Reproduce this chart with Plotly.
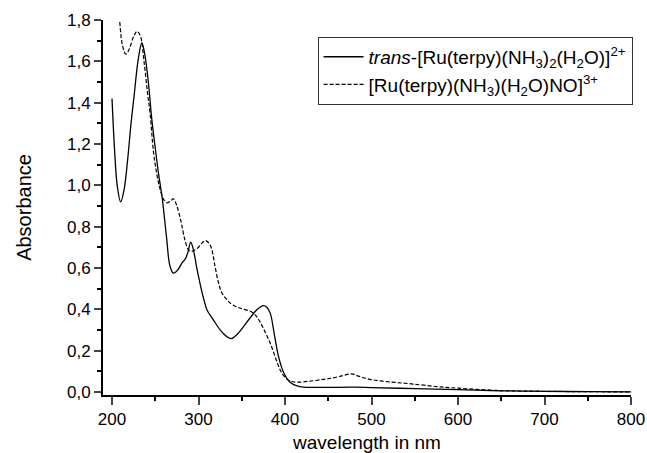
import plotly.graph_objects as go

# Solid: trans-[Ru(terpy)(NH3)2(H2O)]2+
wl_solid = [200, 203, 206, 210, 214, 218, 222, 226, 230, 234.5, 238, 242, 246, 250, 254, 258, 263,
            267, 271, 276, 281, 285, 288, 291, 294, 298, 302, 306, 310, 317, 325, 332, 338, 345,
            352, 360, 368, 375, 379, 383, 388, 392, 396, 400, 405, 410, 417, 430, 480, 500, 550,
            600, 650, 700, 750, 800]
abs_solid = [1.42, 1.17, 1.0, 0.92, 0.98, 1.12, 1.3, 1.45, 1.6, 1.69, 1.63, 1.5, 1.32, 1.18, 1.05, 0.94, 0.75,
             0.61, 0.575, 0.59, 0.625, 0.645, 0.68, 0.725, 0.69, 0.6, 0.52, 0.45, 0.395, 0.35, 0.30, 0.27, 0.258, 0.28,
             0.316, 0.36, 0.40, 0.418, 0.41, 0.38, 0.27, 0.18, 0.12, 0.08, 0.05, 0.035, 0.026, 0.022, 0.023, 0.021, 0.016,
             0.011, 0.005, 0.003, 0.001, 0.0]

# Dashed: [Ru(terpy)(NH3)(H2O)NO]3+
wl_dash = [209, 212, 216, 220, 225, 229, 233, 237, 241, 244, 248, 252, 256, 260, 264, 268, 271, 275,
           280, 284, 288, 291, 295, 300, 304, 308, 312, 315, 319, 323, 327, 332, 338, 345, 352, 360,
           366, 371, 377, 383, 389, 394.5, 400, 406, 414, 429, 445, 456, 466, 477, 486, 498, 513,
           530, 548, 575, 600, 652, 700, 750, 800]
abs_dash = [1.79, 1.68, 1.635, 1.66, 1.72, 1.745, 1.72, 1.6, 1.45, 1.35, 1.16, 1.05, 0.975, 0.93, 0.915, 0.925, 0.935, 0.9,
            0.82, 0.74, 0.69, 0.68, 0.685, 0.70, 0.72, 0.732, 0.72, 0.695, 0.61, 0.53, 0.48, 0.45, 0.425, 0.41, 0.40, 0.39,
            0.37, 0.34, 0.29, 0.235, 0.165, 0.106, 0.07, 0.052, 0.047, 0.052, 0.061, 0.068, 0.078, 0.087, 0.075, 0.061, 0.052,
            0.045, 0.038, 0.026, 0.018, 0.006, 0.003, 0.001, 0.0]

x_ticks = [200, 300, 400, 500, 600, 700, 800]
y_ticks = [0.0, 0.2, 0.4, 0.6, 0.8, 1.0, 1.2, 1.4, 1.6, 1.8]
y_tick_text = [f"{v:.1f}".replace(".", ",") for v in y_ticks]

fig = go.Figure()
fig.add_trace(go.Scatter(
    x=wl_solid, y=abs_solid, mode="lines", line_shape="spline",
    line=dict(color="black", width=1.3),
    name="<i>trans</i>-[Ru(terpy)(NH<sub>3</sub>)<sub>2</sub>(H<sub>2</sub>O)]<sup>2+</sup>"))
fig.add_trace(go.Scatter(
    x=wl_dash, y=abs_dash, mode="lines", line_shape="spline",
    line=dict(color="black", width=1.2, dash="4px,2px"),
    name="[Ru(terpy)(NH<sub>3</sub>)(H<sub>2</sub>O)NO]<sup>3+</sup>"))

fig.update_layout(
    width=647, height=453, autosize=False,
    margin=dict(l=103, r=16, t=20, b=58),
    paper_bgcolor="white", plot_bgcolor="white",
    font=dict(family="Liberation Sans, Arial, sans-serif", size=16, color="black"),
    showlegend=True,
    legend=dict(x=1.003, y=0.955, xanchor="right", yanchor="top",
                bordercolor="#333333", borderwidth=1, bgcolor="white",
                font=dict(size=19), tracegroupgap=0, itemwidth=40),
    xaxis=dict(range=[189.6, 800], tickvals=x_ticks, ticks="outside", ticklen=8, tickwidth=2,
               showline=True, linewidth=2, linecolor="black", showgrid=False, zeroline=False,
               automargin=False, ticklabeloverflow="allow",
               tickfont=dict(size=17),
               minor=dict(tickvals=[250, 350, 450, 550, 650, 750], ticks="outside", ticklen=4,
                          tickwidth=2, tickcolor="black", showgrid=False),
               title=dict(text="wavelength in nm", font=dict(size=19), standoff=8)),
    yaxis=dict(range=[-0.015, 1.8], tickvals=y_ticks, ticktext=y_tick_text, ticks="outside",
               ticklen=7, tickwidth=2, showline=True, linewidth=2, linecolor="black",
               showgrid=False, zeroline=False, tickfont=dict(size=17),
               automargin=False, ticklabeloverflow="allow",
               minor=dict(tickvals=[0.1, 0.3, 0.5, 0.7, 0.9, 1.1, 1.3, 1.5, 1.7], ticks="outside",
                          ticklen=4, tickwidth=2, tickcolor="black", showgrid=False),
               title=dict(text="Absorbance", font=dict(size=20), standoff=30)),
)

fig.write_html(
    "out.html",
    config={"displayModeBar": False, "responsive": False},
    post_script="document.body.style.margin='0';document.body.style.padding='0';"
                "document.body.style.overflow='hidden';"
                "document.documentElement.style.overflow='hidden';")
